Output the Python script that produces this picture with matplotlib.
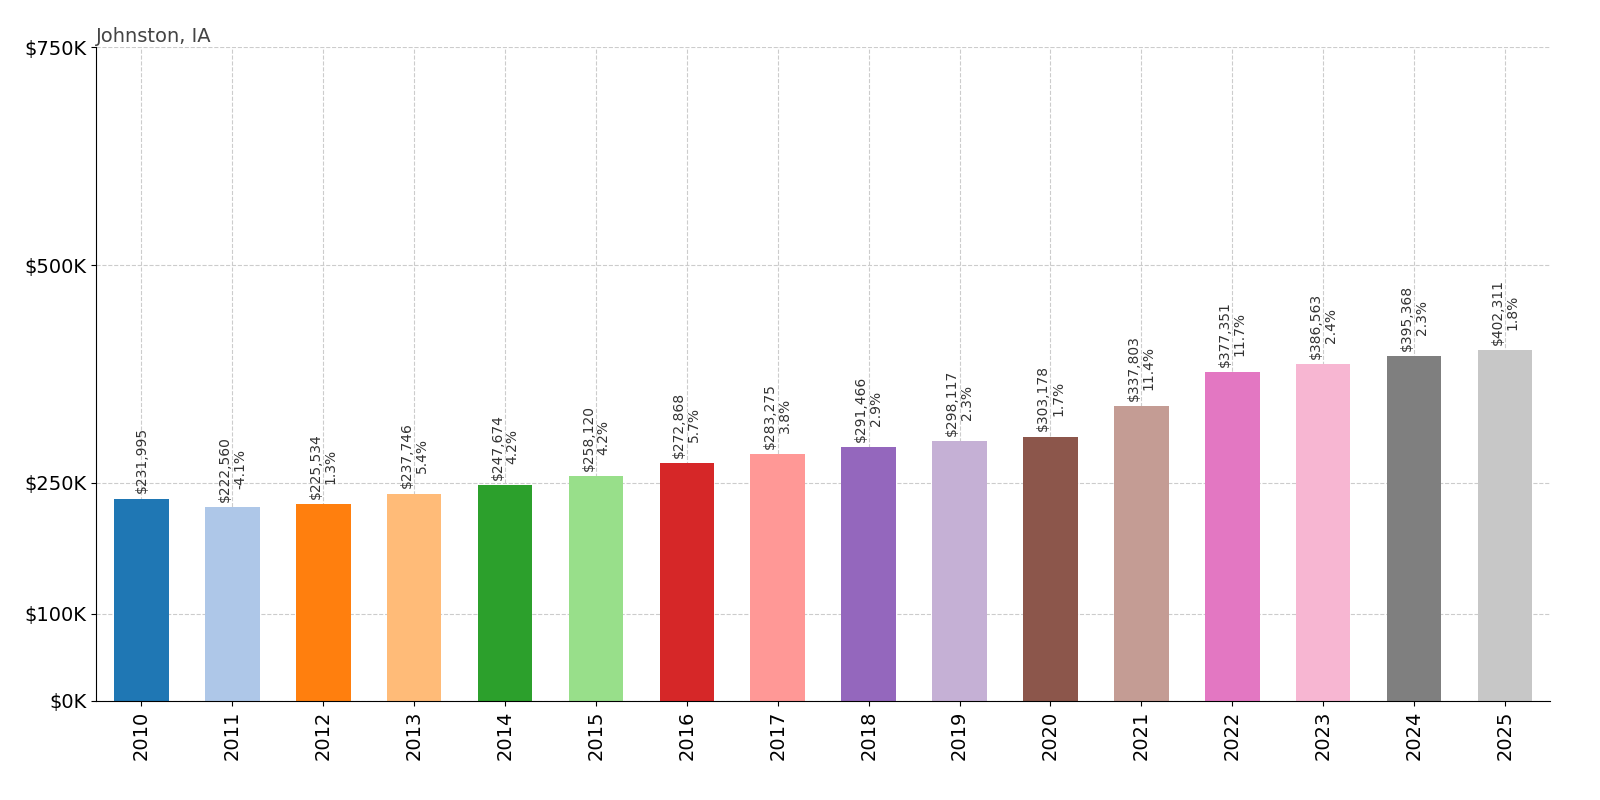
import matplotlib.pyplot as plt
import numpy as np

years = [str(y) for y in range(2010, 2026)]
values = [231995, 222560, 225534, 237746, 247674, 258120, 272868, 283275,
          291466, 298117, 303178, 337803, 377351, 386563, 395368, 402311]
changes = [None, -4.1, 1.3, 5.4, 4.2, 4.2, 5.7, 3.8, 2.9, 2.3, 1.7, 11.4, 11.7, 2.4, 2.3, 1.8]
yticks = [0, 100000, 250000, 500000, 750000]
ytick_labels = ['$0K', '$100K', '$250K', '$500K', '$750K']

colors = plt.get_cmap('tab20').colors

fig = plt.figure(figsize=(16, 8), dpi=100)
ax = fig.add_axes([0.06, 0.124, 0.909, 0.817])
x = np.arange(len(years))
ax.bar(x, values, width=0.6, color=[colors[i % 20] for i in range(len(years))], zorder=2)

for i, v in enumerate(values):
    txt = f'${v:,}'
    if changes[i] is not None:
        txt += f'\n{changes[i]}%'
    ax.text(x[i], v + 6000, txt, rotation=90, ha='center', va='bottom',
            fontsize=10, color='#333333', linespacing=1.1)

ax.set_xlim(-0.5, len(years) - 0.5)
ax.set_ylim(0, 750000)
ax.set_yticks(yticks)
ax.set_yticklabels(ytick_labels, fontsize=14)
ax.set_xticks(x)
ax.set_xticklabels(years, rotation=90, fontsize=14)
ax.grid(True, linestyle='--', color='#cccccc', linewidth=0.8, zorder=0)
ax.spines['top'].set_visible(False)
ax.spines['right'].set_visible(False)
ax.set_title('Johnston, IA', loc='left', fontsize=14, color='#444444', pad=4)

fig.savefig('out.png', dpi=100)
